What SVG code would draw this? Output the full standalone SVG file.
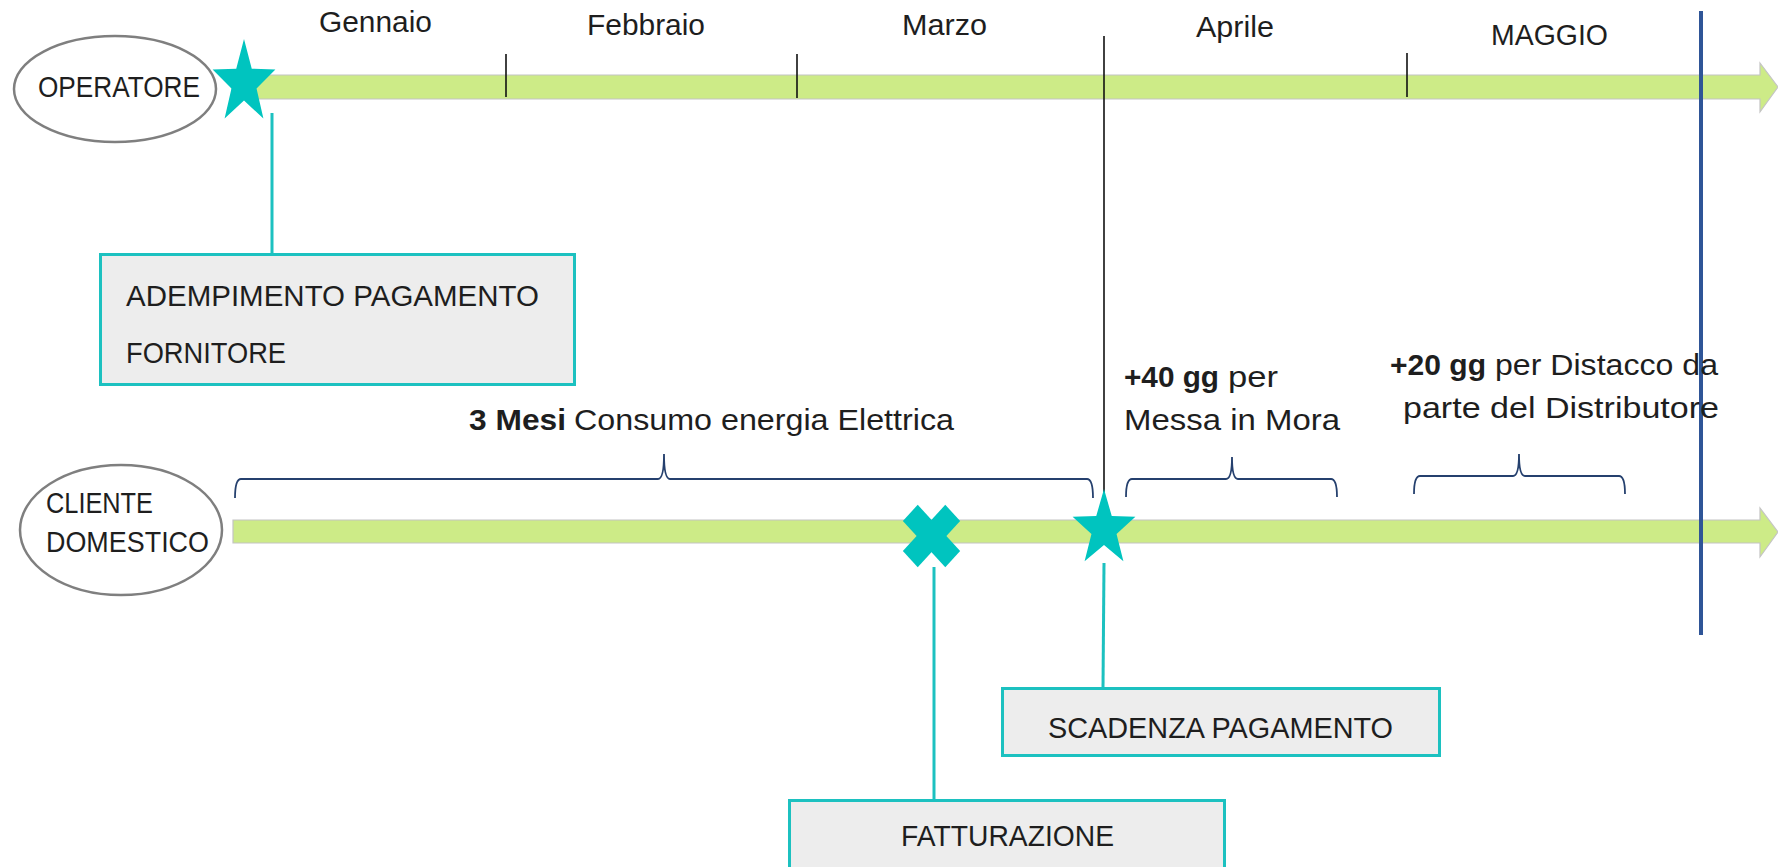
<svg xmlns="http://www.w3.org/2000/svg" width="1778" height="867" viewBox="0 0 1778 867">
<defs>
<style>
.t{font-family:"Liberation Sans",Arial,sans-serif;font-size:29px;fill:#1e1e1e}
.b{font-weight:bold}
.bar{fill:#CDEB87;stroke:#C4C4C4;stroke-width:1.2}
.tick{stroke:#111;stroke-width:1.6;fill:none}
.brace{fill:none;stroke:#25406E;stroke-width:1.8}
.conn{stroke:#1CC1C0;stroke-width:3;fill:none}
.box{fill:#EDEDED;stroke:#1CC1C0;stroke-width:3}
.ell{fill:#fff;stroke:#7F7F7F;stroke-width:2.5}
.mark{fill:#00C4BF}
</style>
<path id="star" d="M0,-1 L0.235,-0.324 L0.951,-0.309 L0.380,0.124 L0.588,0.809 L0,0.40 L-0.588,0.809 L-0.380,0.124 L-0.951,-0.309 L-0.235,-0.324 Z"/>
</defs>
<rect width="1778" height="867" fill="#fff"/>

<g id="timeline-operatore">
<polygon class="bar" points="232,75 1760,75 1760,63 1778,87 1760,112 1760,99 232,99"/>
</g>
<g id="timeline-cliente">
<polygon class="bar" points="233,520 1760,520 1760,508 1778,532 1760,557 1760,543 233,543"/>
</g>

<g id="months">
<text class="t" x="319" y="32" textLength="113" lengthAdjust="spacingAndGlyphs">Gennaio</text>
<text class="t" x="587" y="35" textLength="118" lengthAdjust="spacingAndGlyphs">Febbraio</text>
<text class="t" x="902" y="35" textLength="85" lengthAdjust="spacingAndGlyphs">Marzo</text>
<text class="t" x="1196" y="37" textLength="78" lengthAdjust="spacingAndGlyphs">Aprile</text>
<text class="t" x="1491" y="45" textLength="117" lengthAdjust="spacingAndGlyphs">MAGGIO</text>
</g>

<g id="ticks">
<line class="tick" x1="506" y1="54" x2="506" y2="97"/>
<line class="tick" x1="797" y1="54" x2="797" y2="98"/>
<line class="tick" x1="1407" y1="53" x2="1407" y2="97"/>
<line class="tick" x1="1104" y1="36" x2="1104" y2="500"/>
</g>

<g id="deadline-line">
<line x1="1701" y1="11" x2="1701" y2="635" stroke="#2F5597" stroke-width="4"/>
</g>

<g id="connectors">
<line class="conn" x1="272" y1="113" x2="272" y2="254"/>
<line class="conn" x1="934" y1="567" x2="934" y2="800"/>
<line class="conn" x1="1104" y1="563" x2="1103" y2="687"/>
</g>

<g id="braces">
<path class="brace" d="M235,498 Q235,479 241,479 L658,479 Q664,479 664,454 Q664,479 670,479 L1087,479 Q1093,479 1093,498"/>
<path class="brace" d="M1126,497 Q1126,479 1132,479 L1226,479 Q1232,479 1232,457 Q1232,479 1238,479 L1331,479 Q1337,479 1337,497"/>
<path class="brace" d="M1414,494 Q1414,476 1420,476 L1513,476 Q1519,476 1519,454 Q1519,476 1525,476 L1619,476 Q1625,476 1625,494"/>
</g>

<g id="node-operatore">
<ellipse class="ell" cx="115" cy="89" rx="101" ry="53"/>
<text class="t" x="38" y="97" textLength="162" lengthAdjust="spacingAndGlyphs">OPERATORE</text>
</g>

<g id="node-cliente">
<ellipse class="ell" cx="121" cy="530" rx="101" ry="65"/>
<text class="t" x="46" y="513" textLength="107" lengthAdjust="spacingAndGlyphs">CLIENTE</text>
<text class="t" x="46" y="552" textLength="163" lengthAdjust="spacingAndGlyphs">DOMESTICO</text>
</g>

<g id="star-operatore">
<use href="#star" class="mark" transform="translate(244,83) scale(33,44)"/>
</g>

<g id="x-fatturazione">
<g transform="translate(931.5,536) scale(1,1.09)">
<rect class="mark" x="-10.5" y="-30" width="21" height="60" transform="rotate(45)"/>
<rect class="mark" x="-10.5" y="-30" width="21" height="60" transform="rotate(-45)"/>
</g>
</g>

<g id="star-scadenza">
<use href="#star" class="mark" transform="translate(1104,529) scale(33,40)"/>
</g>

<g id="node-adempimento">
<rect class="box" x="100.5" y="254.5" width="474" height="130"/>
<text class="t" x="126" y="306" textLength="413" lengthAdjust="spacingAndGlyphs">ADEMPIMENTO PAGAMENTO</text>
<text class="t" x="126" y="363" textLength="160" lengthAdjust="spacingAndGlyphs">FORNITORE</text>
</g>

<g id="label-consumo">
<text class="t" y="430"><tspan class="b" x="469" textLength="97" lengthAdjust="spacingAndGlyphs">3 Mesi</tspan><tspan x="574" textLength="380" lengthAdjust="spacingAndGlyphs">Consumo energia Elettrica</tspan></text>
</g>

<g id="label-mora">
<text class="t" y="387"><tspan class="b" x="1124" textLength="95" lengthAdjust="spacingAndGlyphs">+40 gg</tspan><tspan x="1228" textLength="50" lengthAdjust="spacingAndGlyphs">per</tspan></text>
<text class="t" x="1124" y="430" textLength="216" lengthAdjust="spacingAndGlyphs">Messa in Mora</text>
</g>

<g id="label-distacco">
<text class="t" y="375"><tspan class="b" x="1390" textLength="96" lengthAdjust="spacingAndGlyphs">+20 gg</tspan><tspan x="1495" textLength="223" lengthAdjust="spacingAndGlyphs">per Distacco da</tspan></text>
<text class="t" x="1403" y="418" textLength="316" lengthAdjust="spacingAndGlyphs">parte del Distributore</text>
</g>

<g id="node-scadenza">
<rect class="box" x="1002.5" y="688.5" width="437" height="67"/>
<text class="t" x="1048" y="738" textLength="345" lengthAdjust="spacingAndGlyphs">SCADENZA PAGAMENTO</text>
</g>

<g id="node-fatturazione">
<rect class="box" x="789.5" y="800.5" width="435" height="80"/>
<text class="t" x="901" y="846" textLength="213" lengthAdjust="spacingAndGlyphs">FATTURAZIONE</text>
</g>
</svg>
